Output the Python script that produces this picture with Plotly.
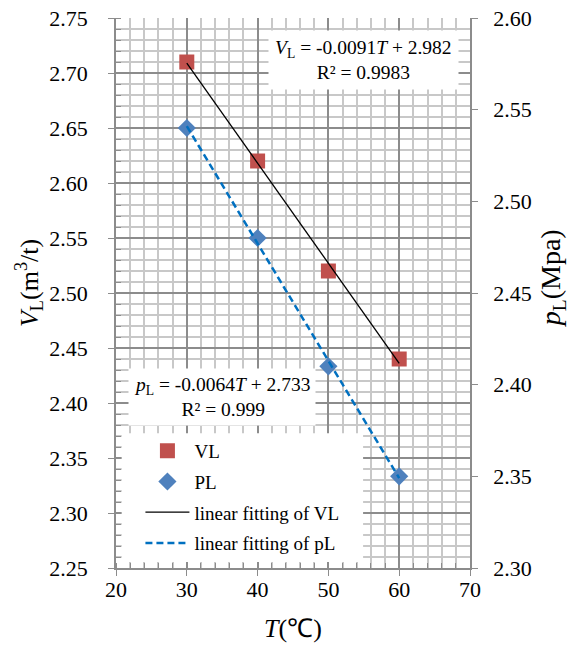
#!/usr/bin/env python3
'''VL and pL against temperature, with linear fits.'''

import plotly.graph_objs as go

temps = [30, 40, 50, 60]
vl = [2.71, 2.62, 2.52, 2.44]
pl = [2.54, 2.48, 2.41, 2.35]

fit_t = [30, 60]
vl_fit = [2.709, 2.436]
pl_fit = [2.541, 2.349]

serif = 'Liberation Serif, Times New Roman, serif'
axis_grey = '#8c8c8c'
major_grid = '#8c8c8c'
minor_grid = '#c8c8c8'

vl_pts = go.Scatter(
    name='VL', x=temps, y=vl, mode='markers', legendgroup='a',
    marker=dict(symbol='square', size=15, color='#C0504D')
)
pl_pts = go.Scatter(
    name='PL', x=temps, y=pl, mode='markers', yaxis='y2', legendgroup='b',
    marker=dict(symbol='diamond', size=14, color='#4F81BD')
)
vl_line = go.Scatter(
    name='linear fitting of VL', x=fit_t, y=vl_fit, mode='lines', legendgroup='c',
    line=dict(color='black', width=1.3)
)
pl_line = go.Scatter(
    name='linear fitting of pL', x=fit_t, y=pl_fit, mode='lines', yaxis='y2',
    legendgroup='d', line=dict(color='#0070C0', width=2.5, dash='7px,4px')
)

layout = go.Layout(
    width=579, height=648,
    margin=dict(l=116, r=109, t=18, b=80),
    paper_bgcolor='white', plot_bgcolor='white',
    font=dict(family=serif, size=22, color='black'),
    xaxis=dict(
        range=[20, 70], dtick=10, automargin=False,
        showline=True, linecolor=axis_grey, linewidth=1.5,
        showgrid=True, gridcolor=major_grid, gridwidth=1.5, zeroline=False,
        ticks='outside', ticklen=6, tickcolor=axis_grey, ticklabelstandoff=-5,
        minor=dict(dtick=2, showgrid=True, gridcolor=minor_grid, gridwidth=1.5,
                   ticks='inside', ticklen=5, tickcolor=axis_grey),
        title=dict(text='<i>T</i>(℃)', font=dict(size=26), standoff=18),
    ),
    yaxis=dict(
        range=[2.25, 2.75], dtick=0.05, tickformat='.2f', automargin=False,
        showline=True, linecolor=axis_grey, linewidth=1.5,
        showgrid=True, gridcolor=major_grid, gridwidth=1.5, zeroline=False,
        ticks='outside', ticklen=6, tickcolor=axis_grey, ticklabelstandoff=16,
        minor=dict(dtick=0.01, showgrid=True, gridcolor=minor_grid, gridwidth=1.5,
                   ticks='inside', ticklen=5, tickcolor=axis_grey),
    ),
    yaxis2=dict(
        range=[2.30, 2.60], dtick=0.05, tickformat='.2f', overlaying='y', side='right',
        automargin=False, showline=True, linecolor=axis_grey, linewidth=1.5,
        showgrid=False, zeroline=False,
        ticks='outside', ticklen=6, tickcolor=axis_grey, ticklabelstandoff=11,
    ),
    legend=dict(
        x=0.069, y=0.011, xanchor='left', yanchor='bottom',
        bgcolor='rgba(0,0,0,0)', borderwidth=0,
        font=dict(family=serif, size=19),
        itemwidth=44, tracegroupgap=3,
    ),
    showlegend=True,
    # white panel behind the legend; a thin strip is left so ticks still show
    shapes=[
        dict(type='rect', xref='paper', yref='paper', x0=0.016, x1=0.698,
             y0=0.011, y1=0.245, fillcolor='white', line=dict(width=0),
             layer='above'),
    ],
    annotations=[
        dict(text='<i>V</i><sub>L</sub>(m<sup>3</sup>/t)', textangle=-90,
             xref='paper', yref='paper', x=-0.246, y=0.518,
             xanchor='center', yanchor='middle', showarrow=False,
             font=dict(size=26)),
        dict(text='<i>p</i><sub>L</sub>(Mpa)', textangle=-90,
             xref='paper', yref='paper', x=1.232, y=0.527,
             xanchor='center', yanchor='middle', showarrow=False,
             font=dict(size=28)),
        dict(text='<i>V</i><sub>L</sub> = -0.0091<i>T</i> + 2.982<br>R² = 0.9983',
             xref='paper', yref='paper', x=0.698, y=0.924,
             xanchor='center', yanchor='middle', showarrow=False,
             bgcolor='white', borderpad=6, font=dict(size=19.5)),
        dict(text='<i>p</i><sub>L</sub> = -0.0064<i>T</i> + 2.733<br>R² = 0.999',
             xref='paper', yref='paper', x=0.30, y=0.311,
             xanchor='center', yanchor='middle', showarrow=False,
             bgcolor='white', borderpad=5, font=dict(size=19.5)),
    ],
)

fig = go.Figure(data=[vl_pts, pl_pts, vl_line, pl_line], layout=layout)
fig.write_html('out.html', config={'displayModeBar': False},
               post_script="document.body.style.margin = '0';")
